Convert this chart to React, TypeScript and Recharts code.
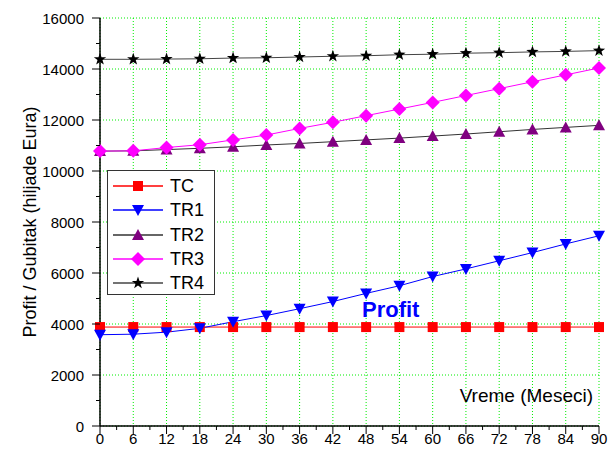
import { LineChart, Line, XAxis, YAxis, CartesianGrid, Legend, Customized } from "recharts";

const months = [0, 6, 12, 18, 24, 30, 36, 42, 48, 54, 60, 66, 72, 78, 84, 90];
const tc = [3880, 3880, 3880, 3880, 3880, 3880, 3880, 3880, 3880, 3880, 3880, 3880, 3880, 3880, 3880, 3880];
const tr1 = [3580, 3600, 3680, 3830, 4090, 4330, 4600, 4880, 5200, 5500, 5860, 6160, 6480, 6800, 7140, 7460];
const tr2 = [10780, 10790, 10840, 10890, 10950, 11020, 11080, 11150, 11220, 11290, 11370, 11450, 11540, 11630, 11710, 11790];
const tr3 = [10780, 10790, 10920, 11030, 11220, 11410, 11670, 11910, 12170, 12430, 12690, 12960, 13230, 13500, 13770, 14040];
const tr4 = [14380, 14380, 14390, 14400, 14430, 14440, 14470, 14500, 14520, 14560, 14580, 14620, 14640, 14670, 14690, 14720];

const xTicks = [0, 3, 6, 9, 12, 15, 18, 21, 24, 27, 30, 33, 36, 39, 42, 45, 48, 51, 54, 57, 60, 63, 66, 69, 72, 75, 78, 81, 84, 87, 90];
const xMajor = [0, 6, 12, 18, 24, 30, 36, 42, 48, 54, 60, 66, 72, 78, 84, 90];
const yTicks = [0, 1000, 2000, 3000, 4000, 5000, 6000, 7000, 8000, 9000, 10000, 11000, 12000, 13000, 14000, 15000, 16000];
const yMajor = [0, 2000, 4000, 6000, 8000, 10000, 12000, 14000, 16000];

const data = months.map((m, i) => ({ m, TC: tc[i], TR1: tr1[i], TR2: tr2[i], TR3: tr3[i], TR4: tr4[i] }));

const font = "'Liberation Sans', Arial, sans-serif";

type Shape = "square" | "down" | "up" | "diamond" | "star";

function marker(shape: Shape, cx: number, cy: number, fill: string, key?: string) {
  if (shape === "square") return <rect key={key} x={cx - 5} y={cy - 5} width={10} height={10} fill={fill} />;
  if (shape === "down")
    return <path key={key} d={`M${cx - 6},${cy - 5}L${cx + 6},${cy - 5}L${cx},${cy + 6}Z`} fill={fill} />;
  if (shape === "up")
    return <path key={key} d={`M${cx - 6},${cy + 5}L${cx + 6},${cy + 5}L${cx},${cy - 6}Z`} fill={fill} />;
  if (shape === "diamond")
    return <path key={key} d={`M${cx},${cy - 7}L${cx + 7},${cy}L${cx},${cy + 7}L${cx - 7},${cy}Z`} fill={fill} />;
  let d = "";
  for (let k = 0; k < 10; k++) {
    const r = k % 2 === 0 ? 6.5 : 2.6;
    const a = -Math.PI / 2 + (k * Math.PI) / 5;
    d += `${k === 0 ? "M" : "L"}${cx + r * Math.cos(a)},${cy + r * Math.sin(a)}`;
  }
  return <path key={key} d={d + "Z"} fill={fill} />;
}

const series: { key: string; line: string; fill: string; shape: Shape }[] = [
  { key: "TC", line: "#ff0000", fill: "#ff0000", shape: "square" },
  { key: "TR1", line: "#0000ff", fill: "#0000ff", shape: "down" },
  { key: "TR2", line: "#333333", fill: "#800080", shape: "up" },
  { key: "TR3", line: "#ff00ff", fill: "#ff00ff", shape: "diamond" },
  { key: "TR4", line: "#444444", fill: "#000000", shape: "star" },
];

const XTick = (props: any) => {
  const { x, y, payload } = props;
  const v = payload.value;
  const major = v % 6 === 0;
  return (
    <g>
      <line x1={x} x2={x} y1={y} y2={y + (major ? 8 : 4)} stroke="#000" />
      {major && (
        <text x={x} y={y + 18} textAnchor="middle" fontSize={15} fontFamily={font} fill="#000">
          {v}
        </text>
      )}
    </g>
  );
};

const YTick = (props: any) => {
  const { x, y, payload } = props;
  const v = payload.value;
  const major = v % 2000 === 0;
  return (
    <g>
      <line x1={x} x2={x - (major ? 8 : 4)} y1={y} y2={y} stroke="#000" />
      {major && (
        <text x={x - 16} y={y + 5.5} textAnchor="end" fontSize={15} fontFamily={font} fill="#000">
          {v}
        </text>
      )}
    </g>
  );
};

const LegendBox = () => (
  <div
    style={{
      border: "1.5px solid #333",
      background: "#fff",
      width: 108,
      height: 125,
      boxSizing: "border-box",
      paddingTop: 3,
      fontFamily: font,
    }}
  >
    {series.map((s) => (
      <div key={s.key} style={{ display: "flex", alignItems: "center", height: 24.3 }}>
        <svg width={62} height={20} style={{ display: "block" }}>
          <line x1={5} x2={55} y1={10} y2={10} stroke={s.line} strokeWidth={1.5} />
          {marker(s.shape, 30, 10, s.fill)}
        </svg>
        <span style={{ fontSize: 18, lineHeight: "20px", color: "#000" }}>{s.key}</span>
      </div>
    ))}
  </div>
);

const Notes = () => (
  <g>
    <text x={362} y={317} fontSize={22} fontWeight="bold" fontFamily={font} fill="#0000ff">
      Profit
    </text>
    <text x={593} y={402} textAnchor="end" fontSize={19} fontFamily={font} fill="#000">
      Vreme (Meseci)
    </text>
  </g>
);

export default function App() {
  return (
    <div style={{ position: "absolute", left: 0, top: 0, background: "#fff" }}>
      <LineChart width={608} height={457} data={data} margin={{ top: 18, right: 9, bottom: 0, left: 0 }}>
        <CartesianGrid
          stroke="#00ee00"
          strokeDasharray="1 2"
          horizontalValues={yMajor}
          verticalValues={xMajor}
        />
        <XAxis
          dataKey="m"
          type="number"
          domain={[0, 90]}
          ticks={xTicks}
          interval={0}
          tick={XTick}
          tickLine={false}
          tickSize={0}
          tickMargin={0}
          height={31}
          axisLine={{ stroke: "#000", strokeWidth: 1.5 }}
        />
        <XAxis
          xAxisId="top"
          orientation="top"
          dataKey="m"
          type="number"
          domain={[0, 90]}
          height={0}
          tick={false}
          tickLine={false}
          axisLine={{ stroke: "#000", strokeWidth: 1.5 }}
        />
        <YAxis
          type="number"
          domain={[0, 16000]}
          ticks={yTicks}
          interval={0}
          tick={YTick}
          tickLine={false}
          tickSize={0}
          tickMargin={0}
          width={100}
          axisLine={{ stroke: "#000", strokeWidth: 1.5 }}
          label={{
            value: "Profit / Gubitak (hiljade Eura)",
            angle: -90,
            position: "center",
            dx: -20,
            fontSize: 18,
            fontFamily: font,
            fill: "#000",
          }}
        />
        <YAxis
          yAxisId="right"
          orientation="right"
          domain={[0, 16000]}
          width={0}
          tick={false}
          tickLine={false}
          axisLine={{ stroke: "#000", strokeWidth: 1.5 }}
        />
        {series.map((s) => (
          <Line
            key={s.key}
            dataKey={s.key}
            type="linear"
            stroke={s.line}
            strokeWidth={1}
            isAnimationActive={false}
            dot={(p: any) => marker(s.shape, p.cx, p.cy, s.fill, `${s.key}-${p.index}`)}
            activeDot={false}
          />
        ))}
        <Legend
          layout="vertical"
          align="center"
          verticalAlign="middle"
          content={LegendBox}
          wrapperStyle={{ left: 107, top: 170, width: 108 }}
        />
        <Customized component={Notes} />
      </LineChart>
    </div>
  );
}
